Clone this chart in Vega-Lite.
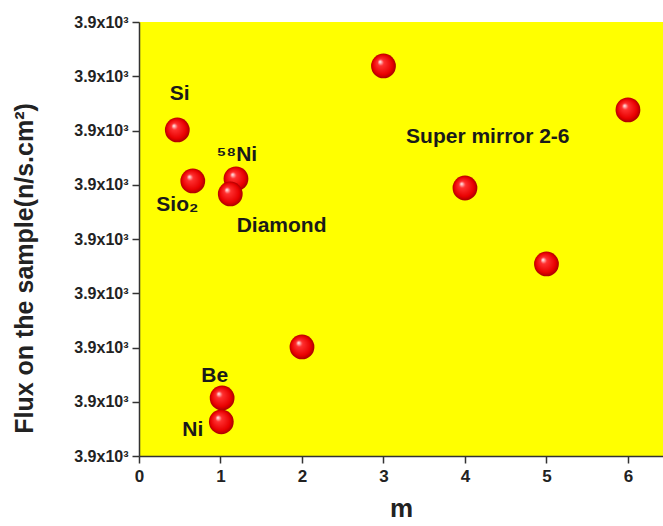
{
  "$schema": "https://vega.github.io/schema/vega-lite/v6.json",
  "width": 524,
  "height": 434,
  "autosize": {"type": "none"},
  "padding": {"left": 139, "top": 22, "right": 0, "bottom": 70},
  "background": "white",
  "config": {
    "view": {"fill": "#ffff00", "stroke": null},
    "font": "Liberation Sans",
    "text": {"font": "Liberation Sans"}
  },
  "datasets": {
    "samples": [
      {"material": "Si", "m": 0.47, "flux": 3906.01},
      {"material": "SiO2", "m": 0.66, "flux": 3905.07},
      {"material": "58Ni", "m": 1.19, "flux": 3905.11},
      {"material": "Diamond", "m": 1.12, "flux": 3904.83},
      {"material": "Be", "m": 1.02, "flux": 3901.07},
      {"material": "Ni", "m": 1.01, "flux": 3900.63},
      {"material": "Super mirror 2", "m": 2.0, "flux": 3902.01},
      {"material": "Super mirror 3", "m": 3.0, "flux": 3907.19},
      {"material": "Super mirror 4", "m": 4.0, "flux": 3904.94},
      {"material": "Super mirror 5", "m": 5.0, "flux": 3903.54},
      {"material": "Super mirror 6", "m": 6.0, "flux": 3906.38}
    ],
    "notes": [
      {"label": "Si", "m": 0.5, "flux": 3906.67},
      {"label": "Sio₂", "m": 0.47, "flux": 3904.63},
      {"label": "⁵⁸Ni", "m": 1.2, "flux": 3905.55},
      {"label": "Diamond", "m": 1.75, "flux": 3904.24},
      {"label": "Super mirror 2-6", "m": 4.28, "flux": 3905.88},
      {"label": "Be", "m": 0.93, "flux": 3901.47},
      {"label": "Ni", "m": 0.66, "flux": 3900.48}
    ]
  },
  "layer": [
    {
      "data": {"name": "samples"},
      "mark": {
        "type": "circle",
        "size": 615,
        "opacity": 1,
        "color": {
          "gradient": "radial",
          "x1": 0.36, "y1": 0.33, "r1": 0.02,
          "x2": 0.5, "y2": 0.5, "r2": 0.52,
          "stops": [
            {"offset": 0, "color": "#ffe0e0"},
            {"offset": 0.22, "color": "#ff3030"},
            {"offset": 0.75, "color": "#e80000"},
            {"offset": 1, "color": "#a00000"}
          ]
        }
      },
      "encoding": {
        "x": {
          "field": "m",
          "type": "quantitative",
          "scale": {"domain": [0, 6.43], "nice": false, "zero": false},
          "axis": {
            "values": [0, 0.5, 1, 1.5, 2, 2.5, 3, 3.5, 4, 4.5, 5, 5.5, 6],
            "format": "d",
            "labelExpr": "datum.value % 1 === 0 ? datum.label : ''",
            "grid": false,
            "domainColor": "#333333",
            "domainWidth": 1.5,
            "tickColor": "#333333",
            "tickWidth": 1.5,
            "tickSize": {"condition": {"test": "datum.value % 1 === 0", "value": 7}, "value": 4},
            "labelFontSize": 17,
            "labelFontWeight": "bold",
            "labelColor": "#222222",
            "labelPadding": 5,
            "labelFlush": false,
            "title": "m",
            "titleFontSize": 26,
            "titleFontWeight": "bold",
            "titleColor": "#222222",
            "titleY": 52,
            "titleBaseline": "middle"
          }
        },
        "y": {
          "field": "flux",
          "type": "quantitative",
          "scale": {"domain": [3900, 3908], "nice": false, "zero": false},
          "axis": {
            "values": [3900, 3900.5, 3901, 3901.5, 3902, 3902.5, 3903, 3903.5, 3904, 3904.5, 3905, 3905.5, 3906, 3906.5, 3907, 3907.5, 3908],
            "labelExpr": "datum.value % 1 === 0 ? '3.9x10³' : ''",
            "grid": false,
            "domainColor": "#333333",
            "domainWidth": 1.5,
            "tickColor": "#333333",
            "tickWidth": 1.5,
            "tickSize": {"condition": {"test": "datum.value % 1 === 0", "value": 7}, "value": 4},
            "labelFontSize": 16,
            "labelFontWeight": "bold",
            "labelColor": "#222222",
            "labelPadding": 4,
            "labelFlush": false,
            "title": "Flux on the sample(n/s.cm²)",
            "titleFontSize": 25,
            "titleFontWeight": "bold",
            "titleColor": "#222222",
            "titleAngle": -90,
            "titleX": -115,
            "titleY": 246,
            "titleBaseline": "middle",
            "titleAlign": "center"
          }
        }
      }
    },
    {
      "data": {"name": "notes"},
      "mark": {"type": "text", "fontSize": 21, "fontWeight": "bold", "color": "#1a1a1a", "align": "center", "baseline": "middle"},
      "encoding": {
        "x": {"field": "m", "type": "quantitative"},
        "y": {"field": "flux", "type": "quantitative"},
        "text": {"field": "label"}
      }
    }
  ]
}
